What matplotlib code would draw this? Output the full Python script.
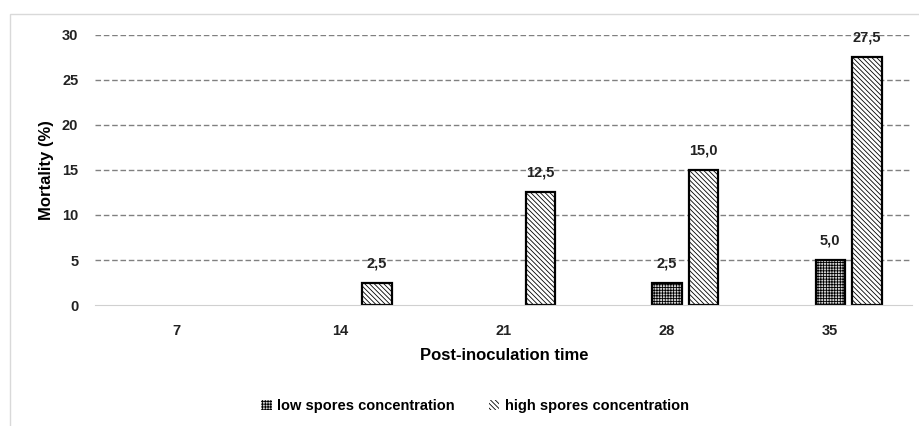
import matplotlib.pyplot as plt
import numpy as np
from matplotlib.patches import Rectangle

plt.rcParams["font.family"] = ["Liberation Sans", "DejaVu Sans"]
plt.rcParams["hatch.linewidth"] = 0.6

days = ["7", "14", "21", "28", "35"]
low = [0, 0, 0, 2.5, 5.0]
high = [0, 2.5, 12.5, 15.0, 27.5]

fig = plt.figure(figsize=(9.2, 4.26), dpi=100)
ax = fig.add_axes([0.1033, 0.284, 0.888, 0.634])

x = np.arange(len(days))
w = 0.18
off = 0.225

plt.rcParams["hatch.color"] = "#7a7a7a"
b1 = ax.bar(x, low, w, facecolor="#d4d4d4", edgecolor="black",
            lw=[1.6 if v > 0 else 0 for v in low],
            hatch="++++++", label="low spores concentration")
b2 = ax.bar(x + off, high, w, facecolor="white", edgecolor="black",
            lw=[1.6 if v > 0 else 0 for v in high],
            hatch="\\\\\\\\\\\\\\", label="high spores concentration")

for bars, vals in ((b1, low), (b2, high)):
    for r, v in zip(bars, vals):
        if v > 0:
            ax.annotate(f"{v:.1f}".replace(".", ","),
                        (r.get_x() + r.get_width() / 2, v),
                        xytext=(0, 9), textcoords="offset points",
                        ha="center", va="bottom", fontsize=10.5, fontweight="bold",
                        color="#222222")

ax.set_xlim(-0.5, 4.5)
ax.set_ylim(0, 30)
ax.set_yticks(range(0, 31, 5))
ax.set_xticks(x)
ax.set_xticklabels(days)
ax.tick_params(length=0, labelsize=10.5, pad=12, labelcolor="#222222")
for t in ax.get_xticklabels() + ax.get_yticklabels():
    t.set_fontweight("bold")
ax.tick_params(axis="x", pad=14)

for s in ["top", "right", "left"]:
    ax.spines[s].set_visible(False)
ax.spines["bottom"].set_color("#d0d0d0")
ax.yaxis.grid(True, ls=(0, (4, 2)), color="#808080", lw=1)
ax.set_axisbelow(True)
ax.get_ygridlines()[0].set_visible(False)

ax.set_ylabel("Mortality (%)", fontsize=12, fontweight="bold", labelpad=6)
fig.text(504 / 920, 1 - 355 / 426, "Post-inoculation time", ha="center", va="center",
         fontsize=12, fontweight="bold")

fig.legend(handles=[b1, b2], loc="center", bbox_to_anchor=(475 / 920, 1 - 406 / 426),
           ncol=2, frameon=False, handlelength=0.7, handleheight=0.7,
           columnspacing=2.3, handletextpad=0.4,
           prop={"weight": "bold", "size": 10.5})

fig.patches.append(Rectangle((10 / 920, -0.1), 1.2, 1 - 14 / 426 + 0.1,
                             transform=fig.transFigure, fill=False,
                             edgecolor="#d9d9d9", lw=1))

fig.savefig("out.png", dpi=100)
